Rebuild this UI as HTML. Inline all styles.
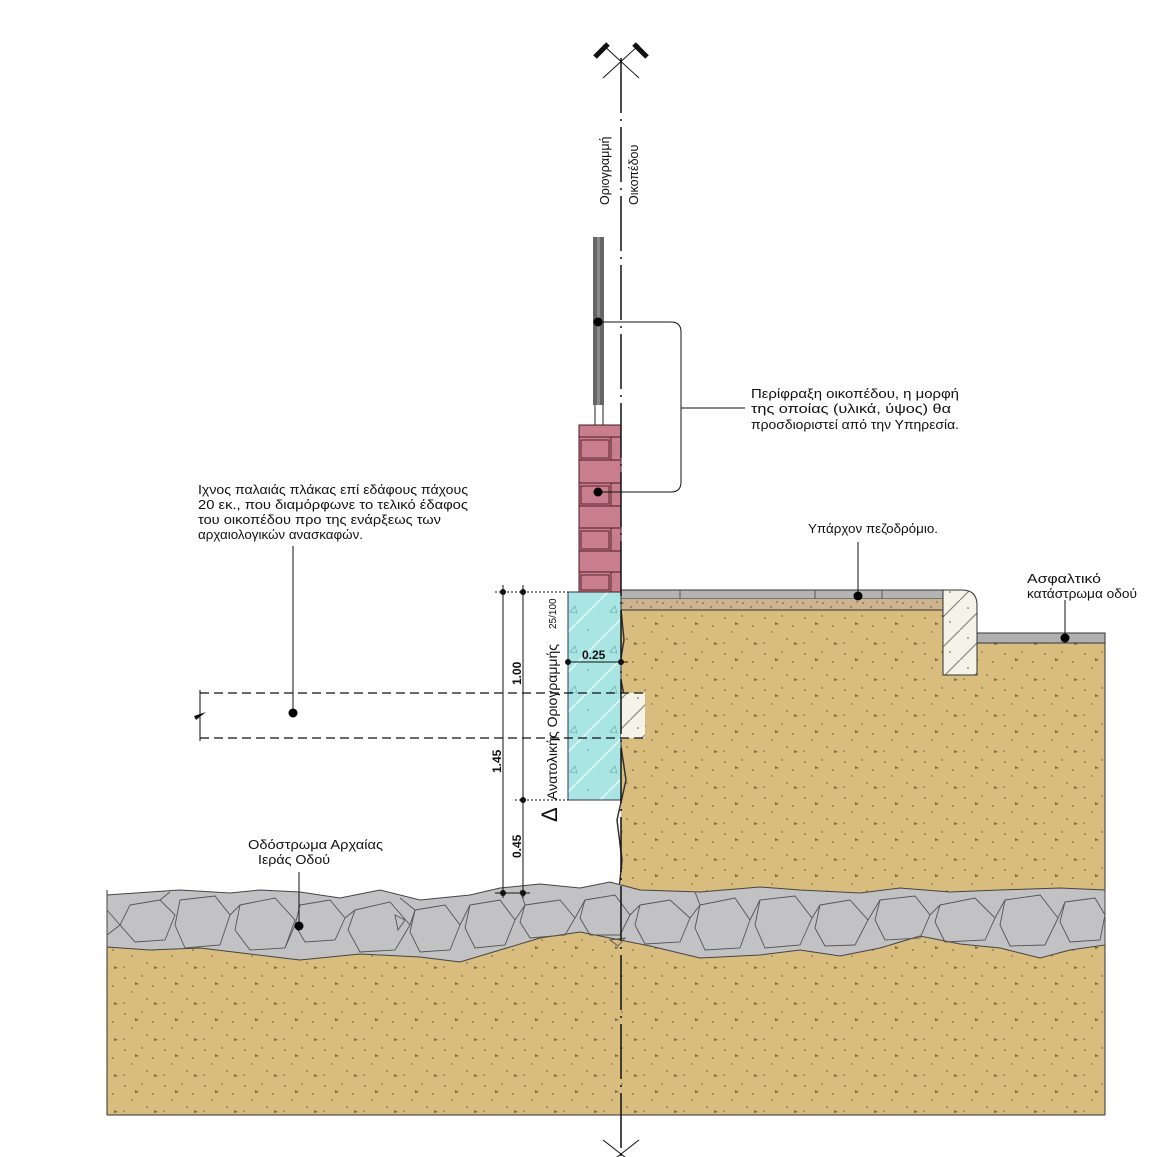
<!DOCTYPE html>
<html><head><meta charset="utf-8"><style>
html,body{margin:0;padding:0;background:#fff;}
svg{display:block;}
text{font-family:"Liberation Sans","DejaVu Sans",sans-serif;font-size:12.5px;fill:#111;}
</style></head><body>
<svg width="1150" height="1157" viewBox="0 0 1150 1157" xmlns="http://www.w3.org/2000/svg">
<defs>
<pattern id="sand" width="40" height="36" patternUnits="userSpaceOnUse">
<rect width="40" height="36" fill="#d9bd7f"/>
<circle cx="5" cy="6" r="0.8" fill="#6b5a30"/><circle cx="22" cy="4" r="0.7" fill="#6b5a30"/>
<circle cx="33" cy="14" r="0.8" fill="#6b5a30"/><circle cx="12" cy="20" r="0.7" fill="#6b5a30"/>
<circle cx="27" cy="27" r="0.8" fill="#6b5a30"/><circle cx="4" cy="31" r="0.7" fill="#6b5a30"/>
<path d="M15 10 l4 2 l-4 1z M34 30 l4 2 l-4 1z" fill="#7a6a40"/>
</pattern>
<pattern id="mix" width="20" height="12" patternUnits="userSpaceOnUse">
<rect width="20" height="12" fill="#cdb48e"/>
<circle cx="3" cy="3" r="0.8" fill="#6a5030"/><circle cx="11" cy="7" r="0.8" fill="#6a5030"/><circle cx="17" cy="2" r="0.7" fill="#6a5030"/>
</pattern>
<pattern id="conc" width="40" height="40" patternUnits="userSpaceOnUse">
<rect width="40" height="40" fill="#a9e5e3"/>
<path d="M0 40 L40 0" stroke="#d8f6f5" stroke-width="2"/>
<path d="M10 12 l5 -6 l2 7z" fill="none" stroke="#6aa" stroke-width="0.6"/>
<circle cx="28" cy="30" r="0.8" fill="#599"/>
</pattern>
<pattern id="curb" width="30" height="30" patternUnits="userSpaceOnUse">
<rect width="30" height="30" fill="#f5f2e8"/>
<path d="M0 30 L30 0" stroke="#888" stroke-width="1.2"/>
<circle cx="8" cy="8" r="0.8" fill="#555"/><circle cx="20" cy="22" r="0.8" fill="#555"/>
</pattern>
</defs>

<rect x="107" y="930" width="998" height="185" fill="url(#sand)"/>
<polygon points="621,606 943,606 943,675 977,675 977,643 1105,643 1105,940 621,940" fill="url(#sand)"/>
<path d="M621,610 L624,640 L619,670 L625,700 L620,740 L626,780 L617,820 L622,860 L619,890" fill="none" stroke="#333" stroke-width="1.5"/>
<line x1="1105" y1="640" x2="1105" y2="1115" stroke="#333" stroke-width="1"/>
<line x1="107" y1="1115" x2="1105" y2="1115" stroke="#333" stroke-width="1"/>
<line x1="107" y1="890" x2="107" y2="1115" stroke="#333" stroke-width="1"/>

<path d="M107,895 L150,892 L180,890 L230,893 L260,890 L300,892 L340,898 L380,890 L420,900 L470,895 L500,888 L540,884 L580,888 L610,882 L640,890 L700,892 L760,887 L800,890 L860,893 L900,888 L950,892 L1000,890 L1060,888 L1105,890 L1105,945 L1070,950 L1040,958 L1000,948 L960,944 L920,936 L880,948 L840,956 L800,950 L760,955 L700,958 L650,946 L620,940 L580,932 L540,938 L500,950 L460,962 L420,957 L360,954 L300,960 L250,954 L200,948 L150,950 L107,947 Z" fill="#c2c2c4" stroke="#444" stroke-width="1"/>
<g fill="none" stroke="#555" stroke-width="0.9">
<polygon points="130,905 160,900 175,915 165,940 135,942 120,925"/>
<polygon points="180,900 215,896 230,915 220,945 185,948 175,925"/>
<polygon points="240,905 275,898 295,920 285,948 250,950 235,930"/>
<polygon points="300,905 330,900 345,918 335,940 305,942 295,925"/>
<polygon points="355,910 390,902 410,925 395,950 360,952 348,930"/>
<polygon points="415,910 445,905 460,925 450,950 420,952 410,932"/>
<polygon points="470,905 500,900 515,920 505,945 475,948 465,928"/>
<polygon points="525,905 560,900 575,918 565,935 530,938 520,922"/>
<polygon points="585,900 615,895 630,915 620,935 590,935 580,918"/>
<polygon points="640,905 670,900 690,918 680,942 645,944 635,925"/>
<polygon points="700,905 735,898 750,920 740,948 705,950 695,928"/>
<polygon points="760,900 795,896 812,918 800,945 765,948 755,925"/>
<polygon points="820,905 850,900 868,920 855,945 825,946 815,928"/>
<polygon points="880,900 915,896 930,915 920,938 885,940 875,920"/>
<polygon points="940,905 975,898 995,918 985,940 945,942 935,922"/>
<polygon points="1005,900 1040,895 1058,918 1045,945 1010,946 1000,925"/>
<polygon points="1065,902 1095,898 1105,915 1100,940 1070,942 1060,922"/>
<polyline points="107,910 120,925 107,935"/>
<polyline points="160,900 170,892"/><polyline points="230,915 240,905"/>
<polyline points="295,925 285,948"/><polyline points="345,918 355,910"/>
<polyline points="410,925 415,910 400,898"/><polyline points="460,925 470,905"/>
<polyline points="515,920 525,905 520,890"/><polyline points="575,918 585,900"/>
<polyline points="630,915 640,905"/><polyline points="690,918 700,905 695,892"/>
<polyline points="750,920 760,900"/><polyline points="812,918 820,905"/>
<polyline points="868,920 880,900"/><polyline points="930,915 940,905"/>
<polyline points="995,918 1005,900"/><polyline points="1058,918 1065,902"/>
<polygon points="395,915 405,920 398,930"/><polygon points="610,940 625,938 618,946"/>
</g>

<rect x="621" y="590" width="322" height="9" fill="#b4b4b4" stroke="#333" stroke-width="1"/>
<line x1="680" y1="590" x2="680" y2="599" stroke="#555"/><line x1="815" y1="590" x2="815" y2="599" stroke="#555"/><line x1="882" y1="590" x2="882" y2="599" stroke="#555"/>
<rect x="621" y="599" width="322" height="11" fill="url(#mix)"/>
<line x1="621" y1="610" x2="943" y2="610" stroke="#333" stroke-width="1"/>
<path d="M943,590 L962,590 Q977,590 977,605 L977,675 L943,675 Z" fill="url(#curb)" stroke="#333" stroke-width="1"/>
<rect x="977" y="633" width="128" height="10" fill="#b0b0b0" stroke="#333" stroke-width="1"/>

<rect x="568" y="592" width="53" height="208" fill="url(#conc)" stroke="#335" stroke-width="1"/>
<rect x="621" y="693" width="24" height="45" fill="url(#curb)"/>

<rect x="579" y="425" width="42" height="167" fill="#c97e8d" stroke="#4a1a22" stroke-width="1"/>
<g stroke="#4a1a22" stroke-width="0.9" fill="none">
<line x1="579" y1="437" x2="621" y2="437"/><line x1="579" y1="460" x2="621" y2="460"/>
<line x1="579" y1="483" x2="621" y2="483"/><line x1="579" y1="506" x2="621" y2="506"/>
<line x1="579" y1="528" x2="621" y2="528"/><line x1="579" y1="551" x2="621" y2="551"/>
<line x1="579" y1="572" x2="621" y2="572"/>
<line x1="611" y1="437" x2="611" y2="460"/><line x1="611" y1="483" x2="611" y2="506"/>
<line x1="611" y1="528" x2="611" y2="551"/><line x1="611" y1="572" x2="611" y2="592"/>
<rect x="581" y="440" width="28" height="18"/><rect x="581" y="486" width="28" height="18"/>
<rect x="581" y="531" width="28" height="18"/><rect x="581" y="575" width="28" height="15"/>
</g>
<rect x="593" y="237" width="11" height="168" fill="#666"/>
<rect x="597" y="237" width="3" height="168" fill="#8a8a8a"/>
<line x1="595" y1="405" x2="595" y2="425" stroke="#222"/><line x1="603" y1="405" x2="603" y2="425" stroke="#222"/>

<line x1="621" y1="58" x2="621" y2="1157" stroke="#111" stroke-width="1.5" stroke-dasharray="55,6,2,6"/>
<g stroke="#111">
<line x1="603" y1="45" x2="639" y2="78" stroke-width="1"/><line x1="639" y1="45" x2="603" y2="78" stroke-width="1"/>
<line x1="595" y1="57" x2="608" y2="44" stroke-width="5"/><line x1="634" y1="44" x2="647" y2="57" stroke-width="5"/>
<line x1="603" y1="1140" x2="639" y2="1168" stroke-width="1"/><line x1="639" y1="1140" x2="603" y2="1168" stroke-width="1"/>
</g>
<text transform="translate(609,205) rotate(-90)">Οριογραμμή</text>
<text transform="translate(638,205) rotate(-90)">Οικοπέδου</text>

<g stroke="#111" stroke-width="1.3" stroke-dasharray="9,5">
<line x1="200" y1="693" x2="645" y2="693"/><line x1="200" y1="738" x2="645" y2="738"/>
</g>
<line x1="200" y1="690" x2="200" y2="741" stroke="#111"/>
<path d="M194,716 L206,712 L196,720 Z" fill="#111"/>

<g stroke="#111" stroke-width="1">
<line x1="503" y1="585" x2="503" y2="898"/><line x1="523" y1="585" x2="523" y2="898"/>
<line x1="495" y1="592" x2="568" y2="592" stroke-dasharray="2,2"/>
<line x1="515" y1="800" x2="568" y2="800" stroke-dasharray="2,2"/>
<line x1="495" y1="893" x2="530" y2="893"/>
<line x1="566" y1="662" x2="628" y2="662"/>
</g>
<g fill="#111">
<circle cx="503" cy="592" r="3"/><circle cx="523" cy="592" r="3"/><circle cx="523" cy="800" r="3"/>
<circle cx="503" cy="893" r="3"/><circle cx="523" cy="893" r="3"/>
<circle cx="568" cy="662" r="3"/><circle cx="621" cy="662" r="3"/>
</g>
<text style="font-weight:bold;font-size:12px" transform="translate(521,685) rotate(-90)">1.00</text>
<text style="font-weight:bold;font-size:12px" transform="translate(501,773) rotate(-90)">1.45</text>
<text style="font-weight:bold;font-size:12px" transform="translate(521,858) rotate(-90)">0.45</text>
<text style="font-weight:bold;font-size:12px" x="582" y="659">0.25</text>
<text style="font-size:22px" transform="translate(557,822) rotate(-90)">Δ</text>
<text style="font-size:14px" transform="translate(557,800) rotate(-90)">Ανατολικής Οριογραμμής</text>
<text style="font-size:10px" transform="translate(556,629) rotate(-90)">25/100</text>

<g stroke="#111" stroke-width="1" fill="none">
<path d="M598,322 L671,322 Q681,322 681,332 L681,482 Q681,492 671,492 L598,492"/>
<line x1="681" y1="408" x2="745" y2="408"/>
<line x1="293" y1="546" x2="293" y2="713"/>
<line x1="858" y1="542" x2="858" y2="596"/>
<line x1="1065" y1="600" x2="1065" y2="638"/>
<line x1="299" y1="872" x2="299" y2="925"/>
</g>
<g fill="#000">
<circle cx="598" cy="322" r="4.5"/><circle cx="598" cy="492" r="4.5"/>
<circle cx="293" cy="713" r="4.5"/><circle cx="858" cy="596" r="4.5"/>
<circle cx="1065" cy="638" r="4.5"/><circle cx="299" cy="926" r="4.5"/>
</g>

<text x="751" y="398" textLength="208" lengthAdjust="spacingAndGlyphs">Περίφραξη οικοπέδου, η μορφή</text>
<text x="751" y="413" textLength="200" lengthAdjust="spacingAndGlyphs">της οποίας (υλικά, ύψος) θα</text>
<text x="751" y="429" textLength="208" lengthAdjust="spacingAndGlyphs">προσδιοριστεί από την Υπηρεσία.</text>

<text x="198" y="494" textLength="270" lengthAdjust="spacingAndGlyphs">Ιχνος παλαιάς πλάκας επί εδάφους πάχους</text>
<text x="198" y="509" textLength="270" lengthAdjust="spacingAndGlyphs">20 εκ., που διαμόρφωνε το τελικό έδαφος</text>
<text x="198" y="524" textLength="243" lengthAdjust="spacingAndGlyphs">του οικοπέδου προ της ενάρξεως των</text>
<text x="198" y="539" textLength="165" lengthAdjust="spacingAndGlyphs">αρχαιολογικών ανασκαφών.</text>

<text x="808" y="533" textLength="130" lengthAdjust="spacingAndGlyphs">Υπάρχον πεζοδρόμιο.</text>
<text x="1027" y="583" textLength="74" lengthAdjust="spacingAndGlyphs">Ασφαλτικό</text>
<text x="1027" y="598" textLength="110" lengthAdjust="spacingAndGlyphs">κατάστρωμα οδού</text>
<text x="248" y="849" textLength="135" lengthAdjust="spacingAndGlyphs">Οδόστρωμα Αρχαίας</text>
<text x="258" y="864" textLength="72" lengthAdjust="spacingAndGlyphs">Ιεράς Οδού</text>
</svg>
</body></html>
